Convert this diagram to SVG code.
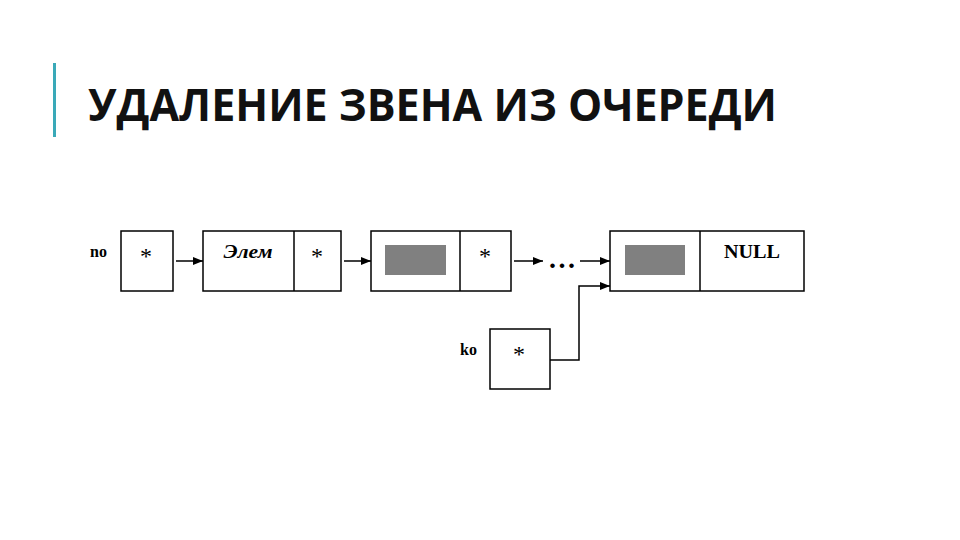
<svg xmlns="http://www.w3.org/2000/svg" width="960" height="540" viewBox="0 0 960 540">
<style>
.box{fill:#fff;stroke:#000;stroke-width:1.5}
.fill{fill:#808080}
.con{fill:none;stroke:#000;stroke-width:1.5}
.lbl{font-family:"Liberation Serif",serif;font-weight:bold;font-size:16px;fill:#000}
.star{font-family:"Liberation Serif",serif;font-size:24px;fill:#000}
</style>
<defs>
<marker id="ah" markerWidth="10" markerHeight="8" refX="10" refY="4" orient="auto" markerUnits="userSpaceOnUse">
<path d="M0,0 L10,4 L0,8 Z" fill="#000"/>
</marker>
</defs>
<rect width="960" height="540" fill="#fff"/>
<g id="title">
<rect x="53" y="63" width="3" height="74" fill="#3aa9b8"/>
<text x="88" y="121" font-family="Open Sans, sans-serif" font-weight="bold" font-size="44" textLength="689" lengthAdjust="spacingAndGlyphs" fill="#111">УДАЛЕНИЕ ЗВЕНА ИЗ ОЧЕРЕДИ</text>
</g>
<g id="node-no">
<text class="lbl" x="90" y="257">no</text>
<rect class="box" x="121" y="231" width="52" height="60"/>
<text class="star" x="146" y="264" text-anchor="middle">*</text>
</g>
<g id="node-elem">
<rect class="box" x="203" y="231" width="138" height="60"/>
<line class="con" x1="294" y1="231" x2="294" y2="291"/>
<text x="248" y="258" text-anchor="middle" font-family="Liberation Serif, serif" font-weight="bold" font-style="italic" font-size="18" textLength="49" lengthAdjust="spacingAndGlyphs">Элем</text>
<text class="star" x="317" y="264" text-anchor="middle">*</text>
</g>
<g id="node-3">
<rect class="box" x="371" y="231" width="140" height="60"/>
<line class="con" x1="460" y1="231" x2="460" y2="291"/>
<rect class="fill" x="385" y="245" width="61" height="30"/>
<text class="star" x="485" y="264" text-anchor="middle">*</text>
</g>
<g id="dots">
<text x="562" y="268" text-anchor="middle" font-family="Liberation Serif, serif" font-weight="bold" font-size="28" textLength="26" lengthAdjust="spacing">...</text>
</g>
<g id="node-last">
<rect class="box" x="610" y="231" width="194" height="60"/>
<line class="con" x1="700" y1="231" x2="700" y2="291"/>
<rect class="fill" x="625" y="245" width="60" height="30"/>
<text x="752" y="258" text-anchor="middle" font-family="Liberation Serif, serif" font-weight="bold" font-size="18" textLength="56" lengthAdjust="spacingAndGlyphs">NULL</text>
</g>
<g id="node-ko">
<text class="lbl" x="460" y="355">ko</text>
<rect class="box" x="490" y="329" width="60" height="60"/>
<text class="star" x="519" y="362" text-anchor="middle">*</text>
</g>
<g id="connectors">
<line class="con" x1="176" y1="261" x2="203" y2="261" marker-end="url(#ah)"/>
<line class="con" x1="344" y1="261" x2="371" y2="261" marker-end="url(#ah)"/>
<line class="con" x1="514" y1="261" x2="543" y2="261" marker-end="url(#ah)"/>
<line class="con" x1="580" y1="261" x2="610" y2="261" marker-end="url(#ah)"/>
<polyline class="con" points="550,360 579,360 579,286 610,286" marker-end="url(#ah)"/>
</g>
</svg>
